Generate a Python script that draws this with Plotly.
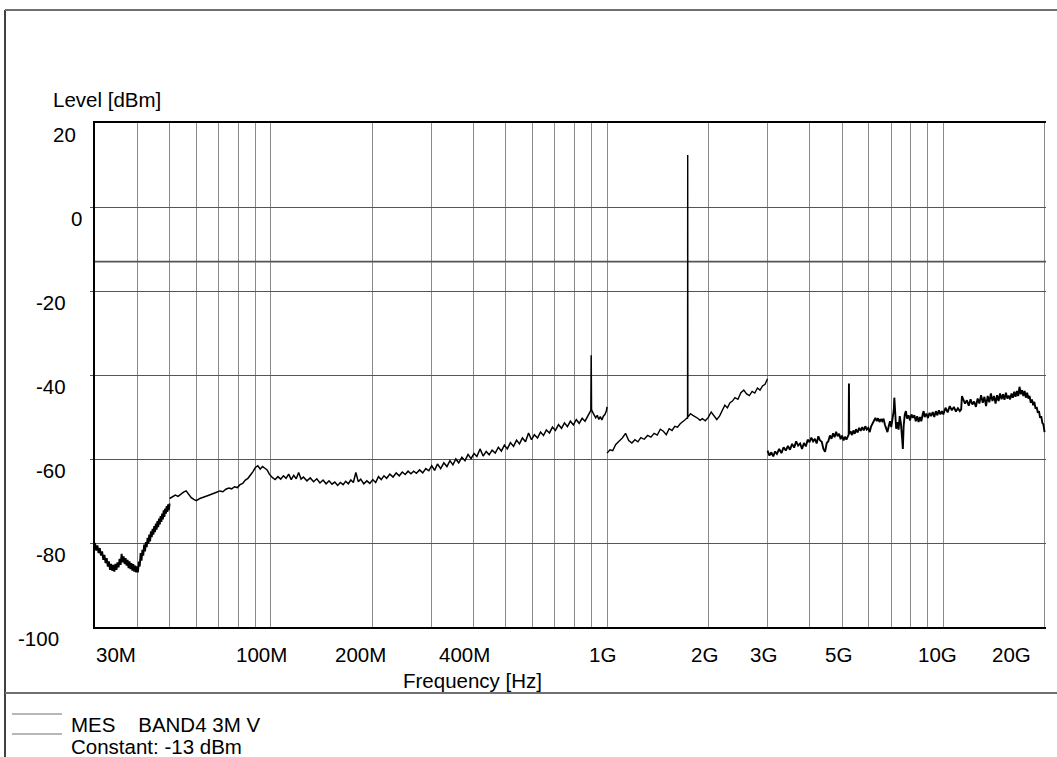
import math
import plotly.graph_objects as go

# ---------------- data (frequencies in MHz, levels in dBm) ----------------
seg1_freq = [30.00, 30.25, 30.50, 30.75, 31.00, 31.25, 31.50, 31.75, 32.00, 32.25, 32.50, 32.75,
             33.00, 33.25, 33.50, 33.75, 34.00, 34.25, 34.50, 34.75, 35.00, 35.25, 35.50, 35.75,
             36.00, 36.25, 36.50, 36.75, 37.00, 37.25, 37.50, 37.75, 38.00, 38.25, 38.50, 38.75,
             39.00, 39.25, 39.50, 39.75, 40.00, 40.25, 40.50, 40.75, 41.00, 41.25, 41.50, 41.75,
             42.00, 42.25, 42.50, 42.75, 43.00, 43.25, 43.50, 43.75, 44.00, 44.25, 44.50, 44.75,
             45.00, 45.25, 45.50, 45.75, 46.00, 46.25, 46.50, 46.75, 47.00, 47.25, 47.50, 47.75,
             48.00, 48.25, 48.50, 48.75, 49.00, 49.25, 49.50, 49.75, 50.00]
seg1_level = [-80.0, -81.8, -80.6, -82.4, -81.2, -83.0, -82.0, -84.0, -82.8, -84.8, -83.6, -85.6,
              -84.4, -86.4, -85.0, -86.6, -85.2, -86.8, -85.0, -86.4, -84.6, -85.8, -83.8, -85.2,
              -82.6, -84.6, -83.2, -85.0, -83.6, -85.4, -84.0, -86.0, -84.4, -86.2, -84.8, -86.6,
              -85.0, -86.8, -85.4, -87.0, -85.6, -87.0, -84.4, -85.6, -82.4, -84.2, -81.6, -83.0,
              -80.4, -82.0, -79.8, -81.0, -78.8, -80.2, -78.0, -79.6, -77.2, -78.6, -76.6, -78.0,
              -76.0, -77.4, -75.4, -76.8, -74.8, -76.2, -74.2, -75.6, -73.6, -75.0, -73.0, -74.4,
              -72.2, -73.8, -71.8, -73.0, -71.2, -72.6, -70.8, -72.2, -70.6]

seg2_freq = [50, 51, 52, 53, 54, 55, 56, 57, 58, 59, 60, 61.5, 63, 64.5, 66, 67.5, 69, 70.5, 72,
             73.5, 75, 76.5, 78, 79.5, 81, 82.5, 84, 85.5, 87, 88.5, 90, 91.5, 93, 94.5, 96, 97.5,
             99, 101, 103, 105, 107, 109, 111, 113, 115, 117, 119, 121, 123, 125, 128, 131, 134,
             137, 140, 143, 146, 149, 152, 155, 158, 161, 164, 167, 170, 173, 176, 179, 182, 185,
             189, 193, 197, 201, 205, 209, 213, 217, 221, 226, 231, 236, 241, 246, 251, 256, 261,
             266, 271, 277, 283, 289, 295, 301, 307, 313, 320, 327, 334, 341, 348, 355, 362, 370,
             378, 386, 394, 402, 410, 419, 428, 437, 446, 455, 465, 475, 485, 495, 505, 516, 527,
             538, 549, 560, 572, 584, 596, 608, 621, 634, 647, 660, 674, 688, 702, 717, 732, 747,
             762, 778, 794, 810, 826, 843, 860, 877, 890, 895, 897, 899, 905, 915, 925, 935, 945,
             955, 965, 975, 985, 995, 1000]
seg2_level = [-69.4, -69.0, -68.6, -68.9, -68.3, -67.9, -67.6, -68.4, -69.2, -69.6, -69.9, -69.4,
              -69.0, -68.8, -68.5, -68.1, -67.9, -67.6, -67.8, -67.2, -66.9, -67.1, -66.6, -66.8,
              -66.1, -65.8, -65.0, -64.6, -63.9, -63.0, -62.0, -61.6, -62.4, -61.8, -62.2, -62.6,
              -63.6, -64.4, -64.9, -64.2, -64.8, -64.0, -64.6, -63.6, -64.9, -63.9, -64.7, -63.2,
              -64.8, -64.3, -65.2, -64.5, -65.4, -64.7, -65.7, -65.0, -65.9, -65.2, -66.0, -65.5,
              -66.3, -65.6, -66.1, -65.3, -65.9, -65.0, -65.6, -63.2, -65.4, -64.8, -65.9, -65.2,
              -65.8, -64.9, -65.6, -64.2, -64.9, -64.0, -64.6, -63.6, -64.3, -63.3, -64.0, -63.1,
              -63.7, -62.9, -63.5, -62.9, -63.4, -62.6, -63.3, -62.3, -62.8, -61.6, -62.7, -61.2,
              -62.3, -60.9, -61.8, -60.4, -61.4, -60.0, -60.9, -59.6, -60.4, -58.9, -59.9, -58.7,
              -59.4, -57.6, -59.3, -58.2, -59.0, -57.9, -58.6, -57.2, -58.1, -56.7, -57.6, -56.1,
              -57.0, -55.5, -56.4, -55.0, -55.9, -53.8, -55.4, -54.2, -55.0, -53.6, -54.4, -53.1,
              -53.8, -52.4, -53.2, -51.8, -52.7, -51.4, -52.3, -51.0, -51.9, -50.6, -51.5, -50.3,
              -51.0, -49.8, -48.9, -48.4, -35.3, -48.2, -48.8, -49.4, -50.2, -49.6, -50.6, -49.9,
              -50.7, -49.8, -49.4, -48.6, -47.6]

seg3_freq = [1000, 1020, 1040, 1060, 1085, 1110, 1135, 1160, 1185, 1210, 1235, 1260, 1290, 1320,
             1350, 1380, 1410, 1440, 1470, 1500, 1530, 1560, 1590, 1620, 1650, 1680, 1710, 1730,
             1735, 1737, 1739, 1750, 1770, 1800, 1830, 1860, 1890, 1920, 1960, 2000, 2040, 2080,
             2120, 2160, 2200, 2240, 2280, 2320, 2360, 2400, 2450, 2500, 2550, 2600, 2650, 2700,
             2750, 2800, 2850, 2900, 2950, 3000]
seg3_level = [-58.6, -57.8, -58.0, -56.6, -55.8, -55.0, -53.9, -55.6, -56.2, -55.4, -55.9, -54.9,
              -55.3, -54.4, -54.8, -53.9, -54.3, -52.9, -53.4, -54.2, -52.8, -53.2, -52.2, -52.4,
              -51.6, -51.2, -50.6, -50.2, -50.4, 12.4, -50.0, -49.8, -49.2, -49.6, -49.9, -50.3,
              -50.8, -50.4, -50.9, -50.1, -48.8, -49.6, -50.6, -49.8, -48.4, -47.2, -47.8, -46.6,
              -46.2, -45.4, -45.8, -44.2, -43.6, -44.5, -44.9, -43.9, -44.3, -43.1, -43.6, -42.6,
              -42.2, -40.9]

seg4_freq = [3000, 3040, 3080, 3120, 3160, 3200, 3250, 3300, 3350, 3400, 3450, 3500, 3550, 3600,
             3650, 3700, 3750, 3800, 3850, 3900, 3950, 4000, 4050, 4100, 4150, 4200, 4250, 4300,
             4350, 4400, 4450, 4500, 4550, 4600, 4650, 4700, 4750, 4800, 4850, 4900, 4950, 5000,
             5050, 5100, 5150, 5200, 5230, 5240, 5250, 5300, 5350, 5400, 5450, 5500, 5560, 5620,
             5680, 5740, 5800, 5860, 5920, 5980, 6040, 6100, 6160, 6220, 6280, 6340, 6400, 6460,
             6520, 6580, 6640, 6700, 6760, 6820, 6880, 6940, 7000, 7060, 7120, 7150, 7180, 7240,
             7300, 7360, 7420, 7480, 7540, 7580, 7620, 7680, 7740, 7800, 7880, 7960, 8040, 8120,
             8200, 8280, 8360, 8440, 8520, 8600, 8680, 8740, 8800, 8900, 9000, 9100, 9200, 9300,
             9400, 9500, 9600, 9700, 9800, 9900, 10000, 10150, 10300, 10450, 10600, 10750, 10900,
             11050, 11200, 11300, 11360, 11450, 11600, 11750, 11900, 12050, 12200, 12350, 12500,
             12650, 12800, 12950, 13100, 13250, 13400, 13550, 13700, 13850, 14000, 14150, 14300,
             14450, 14600, 14750, 14900, 15050, 15200, 15350, 15500, 15650, 15800, 15950, 16100,
             16250, 16400, 16550, 16700, 16850, 17000, 17150, 17300, 17450, 17600, 17750, 17900,
             18050, 18200, 18350, 18500, 18650, 18800, 18950, 19100, 19250, 19400, 19550, 19700,
             19850, 20000]
seg4_level = [-58.0, -59.2, -58.4, -59.4, -58.2, -58.8, -57.6, -58.6, -57.2, -58.0, -56.9, -57.8,
              -56.4, -57.3, -55.8, -56.8, -56.3, -57.6, -56.2, -57.0, -55.4, -56.0, -54.9, -55.8,
              -55.2, -56.3, -54.6, -55.6, -55.9, -57.6, -58.3, -56.2, -55.8, -54.4, -55.2, -53.9,
              -54.8, -53.5, -54.6, -54.0, -55.3, -54.4, -55.6, -54.7, -55.4, -54.5, -54.2, -42.0,
              -54.0, -53.4, -54.3, -53.2, -54.0, -52.9, -53.7, -52.6, -53.3, -52.4, -53.2, -52.2,
              -53.0, -52.6, -53.6, -52.2, -51.4, -50.6, -50.2, -51.0, -50.3, -51.2, -50.5, -51.0,
              -50.4, -51.8, -52.6, -53.6, -52.2, -51.0, -52.4, -50.6, -48.5, -45.4, -49.6, -52.8,
              -51.2, -53.0, -49.8, -51.6, -55.0, -57.6, -52.2, -49.4, -48.6, -50.4, -49.6, -50.8,
              -49.4, -50.2, -49.6, -51.0, -49.8, -51.2, -50.0, -51.0, -49.4, -48.6, -50.0, -49.2,
              -50.2, -49.0, -49.8, -48.8, -50.0, -48.6, -49.6, -48.4, -49.4, -48.6, -49.4, -47.8,
              -48.9, -47.4, -48.4, -47.6, -48.7, -47.9, -48.6, -48.2, -45.0, -45.8, -46.8, -46.0,
              -47.3, -45.8, -47.0, -46.3, -47.6, -45.6, -46.8, -44.8, -46.6, -45.2, -47.4, -45.0,
              -46.5, -44.4, -46.2, -45.0, -46.8, -44.8, -46.2, -44.4, -45.8, -44.6, -45.9, -44.2,
              -45.6, -44.9, -45.8, -44.4, -45.4, -44.0, -45.2, -43.8, -45.0, -42.8, -44.6, -43.6,
              -45.0, -43.8, -45.4, -44.2, -45.6, -45.0, -46.6, -45.8, -47.2, -46.4, -48.0, -47.6,
              -49.0, -48.6, -50.2, -49.8, -51.4, -51.8, -53.6]

constant_level = -13
freq_min_hz = 30e6
freq_max_hz = 20.2e9
level_min, level_max = -100, 20

x_grid_mhz = [40, 50, 60, 70, 80, 90, 100, 200, 300, 400, 500, 600, 700, 800, 900,
              1000, 2000, 3000, 4000, 5000, 6000, 7000, 8000, 9000, 10000, 20000]
y_grid = [0, -20, -40, -60, -80]

x_tick_mhz = [30, 100, 200, 400, 1000, 2000, 3000, 5000, 10000, 20000]
x_tick_text = ["30M", "100M", "200M", "400M", "1G", "2G", "3G", "5G", "10G", "20G"]
x_tick_shift = [21, -9, -12, -9, -5, -4, -4, -4, -6, -33]

y_tick_vals = [20, 0, -20, -40, -60, -80, -100]
y_tick_text = ["20", "0", "-20", "-40", "-60", "-80", "-100"]
y_tick_center_px = [64, 76.5, 50.5, 50.5, 50.5, 50.5, 38]

legend_lines = ["MES    BAND4 3M V", "Constant: -13 dBm"]

# ---------------- figure ----------------
W, H = 1057, 757
PLOT_L, PLOT_R, PLOT_T, PLOT_B = 95, 1046, 123, 627
L, T = PLOT_L, PLOT_T
R, B = W - PLOT_R, H - PLOT_B
PW, PH = PLOT_R - PLOT_L, PLOT_B - PLOT_T


def px(x):
    return (x - PLOT_L) / PW


def py(y):
    return (PLOT_B - y) / PH


FONT = "Liberation Sans, Arial, sans-serif"
FS = 20.5

fig = go.Figure()
fig.add_trace(go.Scatter(x=[freq_min_hz, freq_max_hz], y=[constant_level, constant_level],
                         mode="lines", line=dict(color="#555555", width=1.6),
                         hoverinfo="skip", showlegend=False))
for f, lv, w in [(seg1_freq, seg1_level, 1.9), (seg2_freq, seg2_level, 1.5),
                 (seg3_freq, seg3_level, 1.4), (seg4_freq, seg4_level, 1.9)]:
    fig.add_trace(go.Scatter(x=[v * 1e6 for v in f], y=lv, mode="lines",
                             line=dict(color="black", width=w), showlegend=False))

fig.update_xaxes(type="log", range=[math.log10(freq_min_hz), math.log10(freq_max_hz)],
                 tickvals=[v * 1e6 for v in x_grid_mhz], showticklabels=False,
                 showgrid=True, gridcolor="#8a8a8a", gridwidth=1.3,
                 showline=True, linecolor="black", linewidth=1.5, mirror=True,
                 zeroline=False, ticks="")
fig.update_yaxes(range=[level_min, level_max], tickvals=y_grid, showticklabels=False,
                 showgrid=True, gridcolor="#555555", gridwidth=1,
                 showline=True, linecolor="black", linewidth=1.5, mirror=False,
                 zeroline=False, ticks="outside", ticklen=3, tickcolor="#555555")

ann = []
for v, t, c in zip(y_tick_vals, y_tick_text, y_tick_center_px):
    ann.append(dict(text=t, xref="paper", x=px(c), xanchor="center",
                    yref="y", y=v, yanchor="middle", yshift=-11.5, showarrow=False))
for v, t, s in zip(x_tick_mhz, x_tick_text, x_tick_shift):
    ann.append(dict(text=t, xref="x", x=math.log10(v * 1e6), xanchor="center", xshift=s,
                    yref="paper", y=py(654.5), yanchor="middle", showarrow=False))
ann.append(dict(text="Level [dBm]", xref="paper", x=px(50.5), xanchor="left",
                yref="paper", y=py(100), yanchor="middle", showarrow=False))
ann.append(dict(text="Frequency [Hz]", xref="paper", x=px(400.5), xanchor="left",
                yref="paper", y=py(680), yanchor="middle", showarrow=False))
ann.append(dict(text=legend_lines[0], xref="paper", x=px(69), xanchor="left",
                yref="paper", y=py(724), yanchor="middle", showarrow=False))
ann.append(dict(text=legend_lines[1], xref="paper", x=px(69), xanchor="left",
                yref="paper", y=py(746), yanchor="middle", showarrow=False))

shapes = [
    # outer frame
    dict(type="line", xref="paper", yref="paper", x0=px(5), x1=px(5), y0=py(10), y1=py(770),
         line=dict(color="black", width=1.5)),
    dict(type="line", xref="paper", yref="paper", x0=px(5), x1=px(1070), y0=py(10), y1=py(10),
         line=dict(color="#707070", width=2)),
    dict(type="line", xref="paper", yref="paper", x0=px(5), x1=px(1070), y0=py(693), y1=py(693),
         line=dict(color="#707070", width=2)),
    # legend line samples
    dict(type="line", xref="paper", yref="paper", x0=px(12), x1=px(62), y0=py(714), y1=py(714),
         line=dict(color="#707070", width=1.2)),
    dict(type="line", xref="paper", yref="paper", x0=px(12), x1=px(62), y0=py(734), y1=py(734),
         line=dict(color="#707070", width=1.2)),
]

fig.update_layout(width=W, height=H, margin=dict(l=L, r=R, t=T, b=B, pad=0),
                  plot_bgcolor="white", paper_bgcolor="white",
                  font=dict(family=FONT, size=FS, color="black"),
                  annotations=ann, shapes=shapes, showlegend=False)

# remove the default 8 px page margin so the figure sits at the window's origin
fig.write_html("out.html", config={"displayModeBar": False},
               post_script="document.body.style.margin='0px';document.body.style.overflow='hidden';")
